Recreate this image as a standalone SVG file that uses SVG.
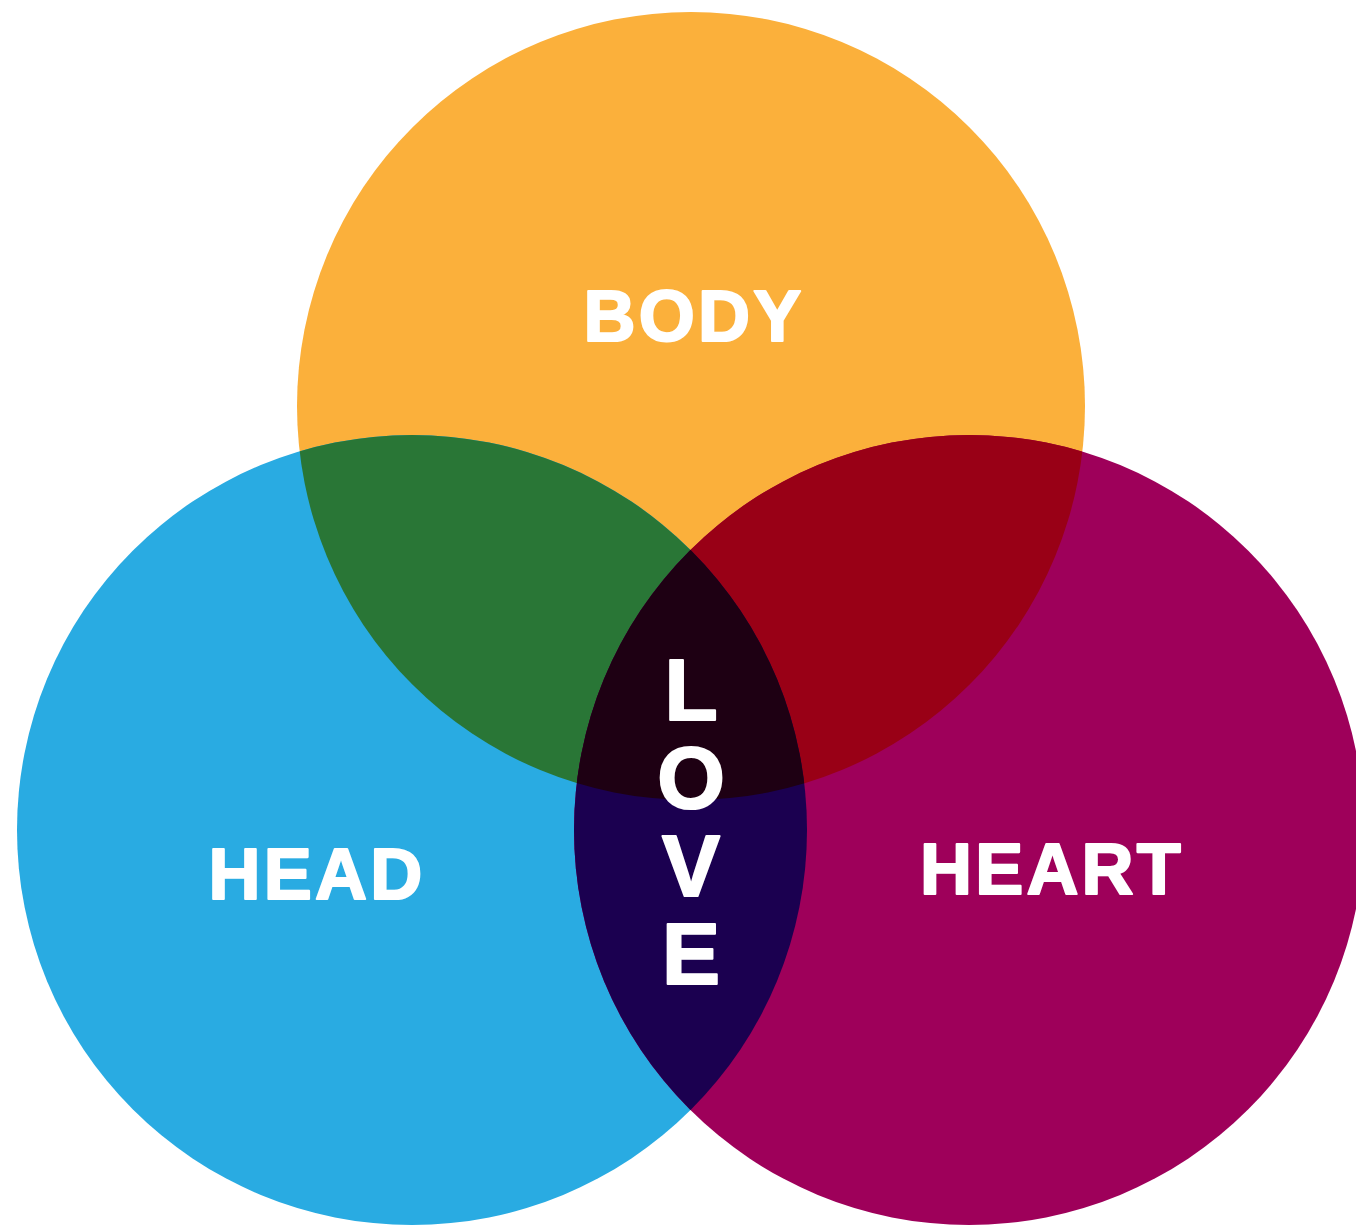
<svg xmlns="http://www.w3.org/2000/svg" width="1356" height="1226" viewBox="0 0 1356 1226">
<style>
.lbl{font-family:"Liberation Sans",Arial,sans-serif;font-weight:bold;fill:#fff;stroke:#fff;stroke-width:2.2px;stroke-linejoin:round;text-anchor:middle}
.h{font-size:72px;letter-spacing:3.2px}
.v{font-size:87px}
</style>
<defs>
<clipPath id="cBody"><circle cx="691" cy="406" r="394"/></clipPath>
<clipPath id="cHead"><circle cx="412" cy="830" r="395"/></clipPath>
<clipPath id="cHeart"><circle cx="969" cy="830" r="395"/></clipPath>
</defs>
<rect width="1356" height="1226" fill="#fff"/>
<g id="body"><circle cx="691" cy="406" r="394" fill="#FBB03B"/></g>
<g id="head"><circle cx="412" cy="830" r="395" fill="#29ABE2"/></g>
<g id="heart"><circle cx="969" cy="830" r="395" fill="#9E005A"/></g>
<g id="body-head" clip-path="url(#cBody)"><circle cx="412" cy="830" r="395" fill="#297636"/></g>
<g id="body-heart" clip-path="url(#cBody)"><circle cx="969" cy="830" r="395" fill="#990016"/></g>
<g id="head-heart" clip-path="url(#cHead)"><circle cx="969" cy="830" r="395" fill="#1B0050"/></g>
<g id="center" clip-path="url(#cBody)"><g clip-path="url(#cHead)"><circle cx="969" cy="830" r="395" fill="#1E0013"/></g></g>
<g id="labels">
<text class="lbl h" x="694" y="341">BODY</text>
<text class="lbl h" x="317" y="899">HEAD</text>
<text class="lbl h" x="1052" y="894">HEART</text>
<text class="lbl v"><tspan x="691" y="720">L</tspan><tspan x="691" y="808">O</tspan><tspan x="691" y="896">V</tspan><tspan x="691" y="984">E</tspan></text>
</g>
</svg>
